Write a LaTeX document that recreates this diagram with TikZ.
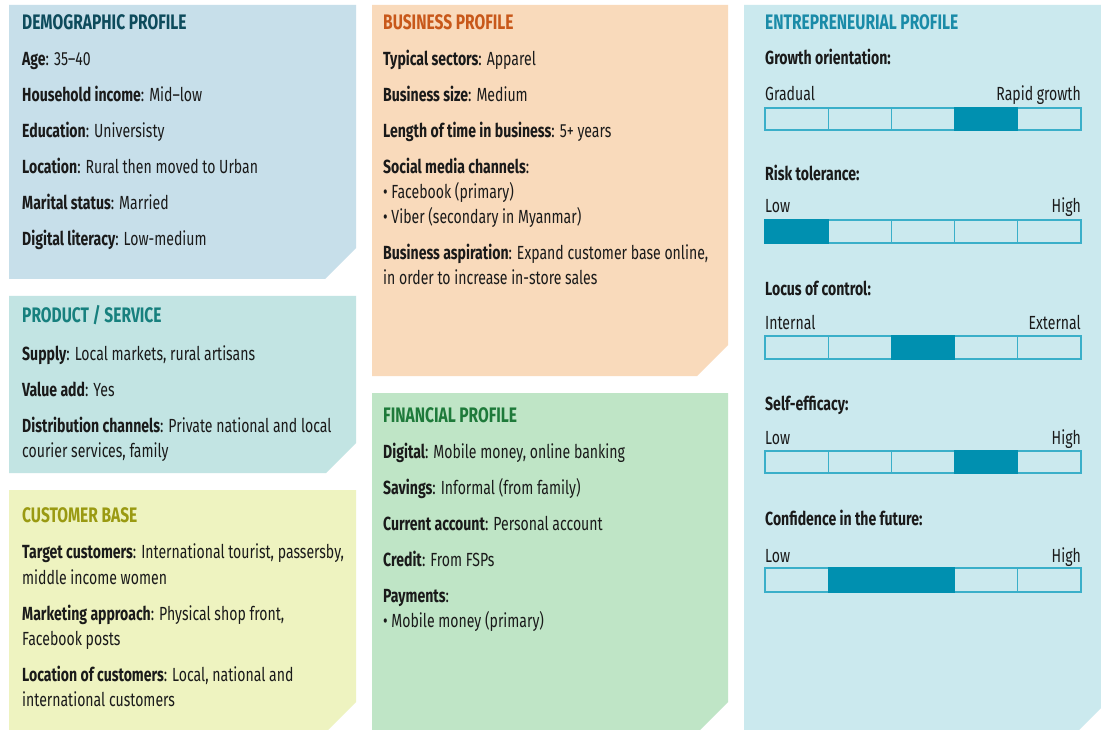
\documentclass[tikz,border=0pt]{standalone}
\usepackage{fontspec}
\setmainfont{Fira Sans}[FakeStretch=0.74]
\definecolor{txt}{HTML}{1A1A1A}
\definecolor{demobg}{HTML}{C7DFEA}
\definecolor{demott}{HTML}{0D4B5C}
\definecolor{prodbg}{HTML}{C2E4E3}
\definecolor{prodtt}{HTML}{17807E}
\definecolor{custbg}{HTML}{EEF3C0}
\definecolor{custtt}{HTML}{9A9A12}
\definecolor{busbg}{HTML}{F9DABB}
\definecolor{bustt}{HTML}{C8581A}
\definecolor{finbg}{HTML}{BFE5C6}
\definecolor{fintt}{HTML}{1E7A3A}
\definecolor{entbg}{HTML}{CBE9EE}
\definecolor{enttt}{HTML}{1A8BA8}
\definecolor{barfill}{HTML}{0090B0}
\definecolor{barline}{HTML}{3AAFC9}
\tikzset{
  ttl/.style={anchor=base west, inner sep=0pt, font=\fontsize{21}{24}\selectfont\bfseries},
  tx/.style={anchor=base west, inner sep=0pt, font=\fontsize{19}{22}\selectfont, text=txt},
  txr/.style={anchor=base east, inner sep=0pt, font=\fontsize{19}{22}\selectfont, text=txt},
  seg/.style={draw=barline, line width=1.2pt, fill=entbg},
  segon/.style={draw=barfill, line width=1.2pt, fill=barfill}
}
\newcommand\panelbox[6]{\fill[#1] (#2,#3) -- (#4,#3) -- (#4,#5-#6) -- (#4-#6,#5) -- (#2,#5) -- cycle;}
\newcommand\entbar[4]{%
  \foreach \i in {0,...,4} {\draw[seg] ({765+63.2*\i},#2) rectangle ({765+63.2*(\i+1)},#3);}
  \foreach \i in {#4} {\draw[segon] ({765+63.2*\i},#2) rectangle ({765+63.2*(\i+1)},#3);}
  \node[inner sep=0pt] (#1) at (923,{(#2+#3)/2}) {};
}
\begin{document}
\begin{tikzpicture}[x=1pt,y=-1pt]
\useasboundingbox[fill=white] (0,0) rectangle (1101,730);
% panels
\panelbox{demobg}{9}{5}{356}{279}{31}
\panelbox{prodbg}{9}{296}{356}{473}{30}
\panelbox{custbg}{9}{490}{356}{730}{28}
\panelbox{busbg}{372}{5}{728}{376}{31}
\panelbox{finbg}{372}{393}{728}{730}{28}
\panelbox{entbg}{744}{5}{1101}{730}{22}
% demographic
\node[ttl, text=demott] (d0) at (22,30) {DEMOGRAPHIC PROFILE};
\node[tx] (d1) at (22,66) {\textbf{Age}: 35–40};
\node[tx] (d2) at (22,102) {\textbf{Household income}: Mid–low};
\node[tx] (d3) at (22,138) {\textbf{Education}: Universisty};
\node[tx] (d4) at (22,174) {\textbf{Location}: Rural then moved to Urban};
\node[tx] (d5) at (22,210) {\textbf{Marital status}: Married};
\node[tx] (d6) at (22,246) {\textbf{Digital literacy}: Low-medium};
% product
\node[ttl, text=prodtt] (p0) at (22,323) {PRODUCT / SERVICE};
\node[tx] (p1) at (22,360) {\textbf{Supply}: Local markets, rural artisans};
\node[tx] (p2) at (22,396) {\textbf{Value add}: Yes};
\node[tx] (p3) at (22,432) {\textbf{Distribution channels}: Private national and local};
\node[tx] (p4) at (22,457) {courier services, family};
% customer
\node[ttl, text=custtt] (c0) at (22,522) {CUSTOMER BASE};
\node[tx] (c1) at (22,558) {\textbf{Target customers}: International tourist, passersby,};
\node[tx] (c2) at (22,584) {middle income women};
\node[tx] (c3) at (22,620) {\textbf{Marketing approach}: Physical shop front,};
\node[tx] (c4) at (22,645) {Facebook posts};
\node[tx] (c5) at (22,681) {\textbf{Location of customers}: Local, national and};
\node[tx] (c6) at (22,706) {international customers};
% business
\node[ttl, text=bustt] (b0) at (383,30) {BUSINESS PROFILE};
\node[tx] (b1) at (383,66) {\textbf{Typical sectors}: Apparel};
\node[tx] (b2) at (383,102) {\textbf{Business size}: Medium};
\node[tx] (b3) at (383,138) {\textbf{Length of time in business}: 5+ years};
\node[tx] (b4) at (383,174) {\textbf{Social media channels}:};
\node[tx] (b5) at (383,199) {• Facebook (primary)};
\node[tx] (b6) at (383,224) {• Viber (secondary in Myanmar)};
\node[tx] (b7) at (383,260) {\textbf{Business aspiration}: Expand customer base online,};
\node[tx] (b8) at (383,285) {in order to increase in-store sales};
% financial
\node[ttl, text=fintt] (f0) at (383,422) {FINANCIAL PROFILE};
\node[tx] (f1) at (383,458) {\textbf{Digital}: Mobile money, online banking};
\node[tx] (f2) at (383,494) {\textbf{Savings}: Informal (from family)};
\node[tx] (f3) at (383,530) {\textbf{Current account}: Personal account};
\node[tx] (f4) at (383,566) {\textbf{Credit}: From FSPs};
\node[tx] (f5) at (383,602) {\textbf{Payments}:};
\node[tx] (f6) at (383,627) {• Mobile money (primary)};
% entrepreneurial
\node[ttl, text=enttt] (e0) at (765,30) {ENTREPRENEURIAL PROFILE};
\node[tx] (g0) at (765,65) {\textbf{Growth orientation:}};
\node[tx] (g1) at (765,101) {Gradual};
\node[txr] (g2) at (1081,101) {Rapid growth};
\entbar{gbar}{108}{130}{3}
\node[tx] (r0) at (765,181) {\textbf{Risk tolerance:}};
\node[tx] (r1) at (765,213) {Low};
\node[txr] (r2) at (1081,213) {High};
\entbar{rbar}{220}{243}{0}
\node[tx] (l0) at (765,295) {\textbf{Locus of control:}};
\node[tx] (l1) at (765,330) {Internal};
\node[txr] (l2) at (1081,330) {External};
\entbar{lbar}{336}{359}{2}
\node[tx] (s0) at (765,410) {\textbf{Self-efficacy:}};
\node[tx] (s1) at (765,444) {Low};
\node[txr] (s2) at (1081,444) {High};
\entbar{sbar}{451}{473}{3}
\node[tx] (k0) at (765,525) {\textbf{Confidence in the future:}};
\node[tx] (k1) at (765,562) {Low};
\node[txr] (k2) at (1081,562) {High};
\entbar{kbar}{568}{592}{1,2}
\end{tikzpicture}
\end{document}
